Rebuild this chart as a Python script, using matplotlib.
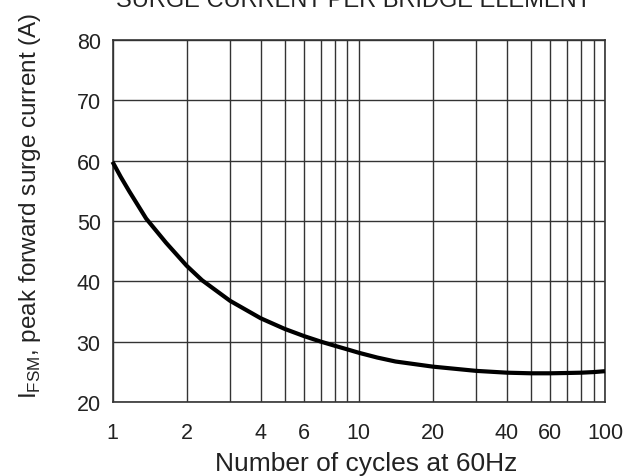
import matplotlib
matplotlib.use("Agg")
import matplotlib.pyplot as plt
from matplotlib.ticker import FixedLocator, NullFormatter

plt.rcParams['font.family'] = ['Liberation Sans', 'DejaVu Sans']

cycles = [1, 1.08, 1.17, 1.37, 1.65, 2, 2.31, 3, 4, 5, 6, 7, 8, 9, 10,
          11.9, 14.1, 20, 30, 40, 50, 60, 70, 80, 90, 100]
current = [59.8, 57.3, 54.9, 50.4, 46.4, 42.6, 40.2, 36.8, 33.9, 32.15, 30.95, 30.05, 29.35, 28.75, 28.2,
           27.4, 26.75, 25.9, 25.2, 24.9, 24.8, 24.8, 24.85, 24.9, 25.0, 25.15]
xtick_vals = [1, 2, 4, 6, 10, 20, 40, 60, 100]
xtick_labels = ['1', '2', '4', '6', '10', '20', '40', '60', '100']
xminor_vals = [3, 5, 7, 8, 9, 30, 50, 70, 80, 90]
ytick_vals = [20, 30, 40, 50, 60, 70, 80]

W, H = 625, 477
fig = plt.figure(figsize=(W/100, H/100), dpi=100)
L, R, T, B = 112.5, 605, 40.7, 403.3
ax = fig.add_axes([L/W, 1-B/H, (R-L)/W, (B-T)/H])

ax.plot(cycles, current, color='black', lw=3.0, solid_joinstyle='round',
        solid_capstyle='butt', zorder=3, clip_on=False)

ax.set_xscale('log')
ax.set_xlim(1, 100)
ax.set_ylim(20, 80)
ax.xaxis.set_major_locator(FixedLocator(xtick_vals))
ax.set_xticklabels(xtick_labels)
ax.xaxis.set_minor_locator(FixedLocator(xminor_vals))
ax.xaxis.set_minor_formatter(NullFormatter())
ax.set_yticks(ytick_vals)
ax.grid(True, which='both', color='#333333', lw=1.0)
ax.tick_params(which='both', length=0, labelsize=15.5, colors='#222222')
ax.tick_params(axis='x', pad=14)
ax.tick_params(axis='y', pad=8.5)
for s in ax.spines.values():
    s.set_color('#333333'); s.set_linewidth(1.2)

fig.text(366/W, 1-470.7/H, 'Number of cycles at 60Hz', ha='center', va='baseline',
         fontsize=19, color='#222222')
fig.text(30/W, 1-205.5/H, r'I$_{\mathregular{FSM}}$, peak forward surge current (A)',
         rotation=90, ha='center', va='center', fontsize=17.5, color='#222222')
fig.text(353/W, 1-7.3/H, 'SURGE CURRENT PER BRIDGE ELEMENT', ha='center', va='baseline',
         fontsize=17, color='#222222')

fig.savefig('out.png', dpi=100)
